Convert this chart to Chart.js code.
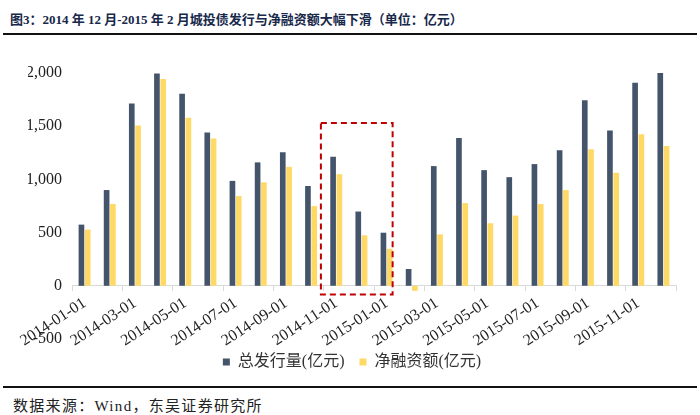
<!DOCTYPE html>
<html>
<head>
<meta charset="utf-8">
<script src="https://cdn.jsdelivr.net/npm/chart.js@4"></script>
<style>
  body { margin: 0; background: #fff; width: 700px; height: 415px; position: relative; overflow: hidden; }
  #title { position: absolute; left: 10px; top: 9px; font: bold 13px "Liberation Serif", "Noto Sans CJK SC"; color: #17284a; white-space: nowrap; }
  #topLine { position: absolute; left: 3px; right: 3px; top: 33px; height: 2px; background: #111; }
  #wrap { position: absolute; left: 0; top: 40px; width: 700px; height: 340px; }
  #bottomLine { position: absolute; left: 3px; right: 3px; top: 386px; height: 2px; background: #111; }
  #source { position: absolute; left: 13px; top: 394px; font: 15px "Liberation Serif", "Noto Sans CJK SC"; letter-spacing: 1.3px; color: #222; white-space: nowrap; }
</style>
</head>
<body>
<div id="title">图3：2014 年 12 月-2015 年 2 月城投债发行与净融资额大幅下滑（单位：亿元）</div>
<div id="topLine"></div>
<div id="wrap"><canvas id="graphic"></canvas></div>
<div id="bottomLine"></div>
<div id="source">数据来源：Wind，东吴证券研究所</div>
<script>
const months = ["2014-01-01", "2014-02-01", "2014-03-01", "2014-04-01", "2014-05-01", "2014-06-01",
  "2014-07-01", "2014-08-01", "2014-09-01", "2014-10-01", "2014-11-01", "2014-12-01",
  "2015-01-01", "2015-02-01", "2015-03-01", "2015-04-01", "2015-05-01", "2015-06-01",
  "2015-07-01", "2015-08-01", "2015-09-01", "2015-10-01", "2015-11-01", "2015-12-01"]
const totalIssue = [575, 900, 1713, 1995, 1804, 1441, 986, 1160, 1254, 938, 1213, 698,
  499, 158, 1125, 1390, 1087, 1021, 1144, 1273, 1744, 1460, 1908, 2000]
const netFinancing = [528, 768, 1507, 1943, 1580, 1384, 843, 973, 1118, 749, 1049, 474,
  348, -47, 483, 777, 588, 660, 768, 900, 1283, 1062, 1425, 1315]
const yTicks = [-500, 0, 500, 1000, 1500, 2000]

// red dashed box around 2014-11 .. 2015-01
const boxFrom = "2014-11-01"
const boxTo = "2015-01-01"
const boxTop = 1530
const boxBottom = -82

const serif = "'Liberation Serif', 'Noto Sans CJK SC'"

const dashedBox = {
  id: "dashedBox",
  afterDatasetsDraw(chart) {
    const x = chart.scales.x
    const y = chart.scales.y
    const w = x.getPixelForValue(1) - x.getPixelForValue(0)
    const left = x.getPixelForValue(months.indexOf(boxFrom)) - 0.61 * w
    const right = x.getPixelForValue(months.indexOf(boxTo)) + 0.24 * w
    const top = y.getPixelForValue(boxTop)
    const bottom = y.getPixelForValue(boxBottom)
    const c = chart.ctx
    c.save()
    c.strokeStyle = "#c00000"
    c.lineWidth = 2
    c.setLineDash([6, 4])
    c.strokeRect(left, top, right - left, bottom - top)
    c.restore()
  }
}

const ctx = document.querySelector("#graphic").getContext("2d")
new Chart(ctx, {
  type: "bar",
  data: {
    labels: months,
    datasets: [
      { label: "总发行量(亿元)", data: totalIssue, backgroundColor: "#44546a" },
      { label: "净融资额(亿元)", data: netFinancing, backgroundColor: "#ffd966" }
    ]
  },
  options: {
    responsive: true,
    maintainAspectRatio: false,
    animation: false,
    categoryPercentage: 0.5,
    barPercentage: 0.9,
    layout: { padding: { top: 33, right: 24, bottom: 0, left: 28 } },
    plugins: {
      tooltip: { enabled: false },
      legend: {
        position: "bottom",
        labels: {
          boxWidth: 7, boxHeight: 7, padding: 15,
          color: "#333",
          font: { family: serif, size: 16 }
        }
      }
    },
    scales: {
      x: {
        position: { y: 0 },
        afterFit(scale) { scale.height = 0 },
        grid: {
          offset: true,
          drawOnChartArea: false,
          drawTicks: true,
          tickLength: 5,
          color: (c) => (c.index === undefined || c.index % 2 === 0) ? "#d9d9d9" : "rgba(0,0,0,0)"
        },
        border: { display: true, color: "#d9d9d9", width: 1 },
        ticks: {
          autoSkip: false,
          maxRotation: 33,
          minRotation: 33,
          padding: 3,
          color: "#222",
          font: { family: serif, size: 16 },
          callback: (v, i) => i % 2 === 0 ? months[i] : ""
        }
      },
      y: {
        min: yTicks[0],
        max: yTicks[yTicks.length - 1],
        afterFit(scale) { scale.width = 44 },
        afterBuildTicks(scale) { scale.ticks = yTicks.map((v) => ({ value: v })) },
        grid: { display: false, drawTicks: false },
        border: { display: false },
        ticks: {
          padding: 10,
          color: "#222",
          font: { family: serif, size: 16 },
          callback: (v) => v.toLocaleString("en-US")
        }
      }
    }
  },
  plugins: [dashedBox]
})
</script>
</body>
</html>
